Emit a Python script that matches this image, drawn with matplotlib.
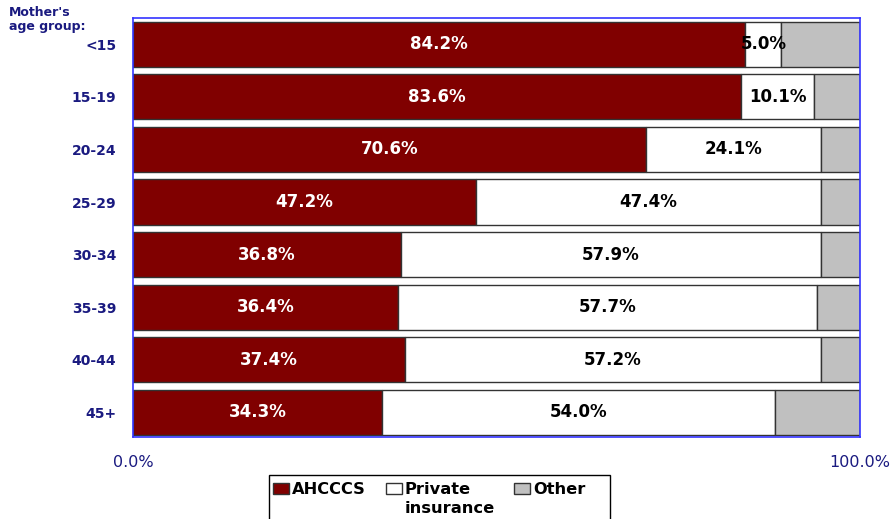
import numpy as np
import matplotlib.pyplot as plt
from matplotlib.patches import Rectangle

# dados
grupos = ["<15", "15-19", "20-24", "25-29", "30-34", "35-39", "40-44", "45+"]
ahcccs = [84.2, 83.6, 70.6, 47.2, 36.8, 36.4, 37.4, 34.3]
privado = [5.0, 10.1, 24.1, 47.4, 57.9, 57.7, 57.2, 54.0]
outro = [10.8, 6.3, 5.3, 5.4, 5.3, 5.9, 5.4, 11.7]
legendas = ["AHCCCS", "Private\ninsurance", "Other"]

navy = "#1a1a80"
cores = ["#800000", "#ffffff", "#c0c0c0"]

W, H = 894, 519
fig = plt.figure(figsize=(W / 100, H / 100), dpi=100)
ax = fig.add_axes([133 / W, 1 - 437 / H, 727 / W, 419 / H])

y = np.arange(len(grupos))
a = np.array(ahcccs)
p = np.array(privado)
o = np.array(outro)

ax.barh(y, a, height=0.86, color=cores[0], edgecolor="#333333", linewidth=1)
ax.barh(y, p, left=a, height=0.86, color=cores[1], edgecolor="#333333", linewidth=1)
ax.barh(y, o, left=a + p, height=0.86, color=cores[2], edgecolor="#333333", linewidth=1)

# rotulos dentro das barras
for i in range(len(grupos)):
    ax.text(a[i] / 2, y[i], f"{ahcccs[i]:.1f}%", ha="center", va="center",
            color="white", fontsize=12, fontweight="bold")
    ax.text(a[i] + p[i] / 2, y[i], f"{privado[i]:.1f}%", ha="center", va="center",
            color="black", fontsize=12, fontweight="bold")

ax.set_xlim(0, 100)
ax.set_ylim(7.47, -0.5)
ax.set_yticks(y)
ax.set_yticklabels(grupos, fontsize=10, fontweight="bold", color=navy)
ax.set_xticks([0, 100])
ax.set_xticklabels(["0.0%", "100.0%"], fontsize=11.5, color=navy)
ax.tick_params(axis="y", length=0, pad=12)
ax.tick_params(axis="x", length=0, pad=13)
for s in ax.spines.values():
    s.set_color("#3333ff")
    s.set_linewidth(1.2)

fig.text(9 / W, 1 - 6 / H, "Mother's\nage group:", ha="left", va="top",
         fontsize=9, fontweight="bold", color=navy, linespacing=1.1)


# legenda feita a mao (em pixels)
def fx(px):
    return px / W


def fy(py):
    return 1 - py / H


fig.add_artist(Rectangle((fx(269), fy(530)), fx(610) - fx(269), fy(475) - fy(530),
                         transform=fig.transFigure, facecolor="white",
                         edgecolor="black", linewidth=1.0))
xs_caixa = [273, 386, 514]
for k in range(3):
    fig.add_artist(Rectangle((fx(xs_caixa[k]), fy(494)), 16 / W, 11 / H,
                             transform=fig.transFigure, facecolor=cores[k],
                             edgecolor="#333333", linewidth=1.0))
    linhas = legendas[k].split("\n")
    for j, linha in enumerate(linhas):
        fig.text(fx(xs_caixa[k] + 19), fy(494 + 19 * j), linha, ha="left",
                 va="baseline", fontsize=11.7, fontweight="bold", color="black")

plt.savefig("out.png", dpi=100)
